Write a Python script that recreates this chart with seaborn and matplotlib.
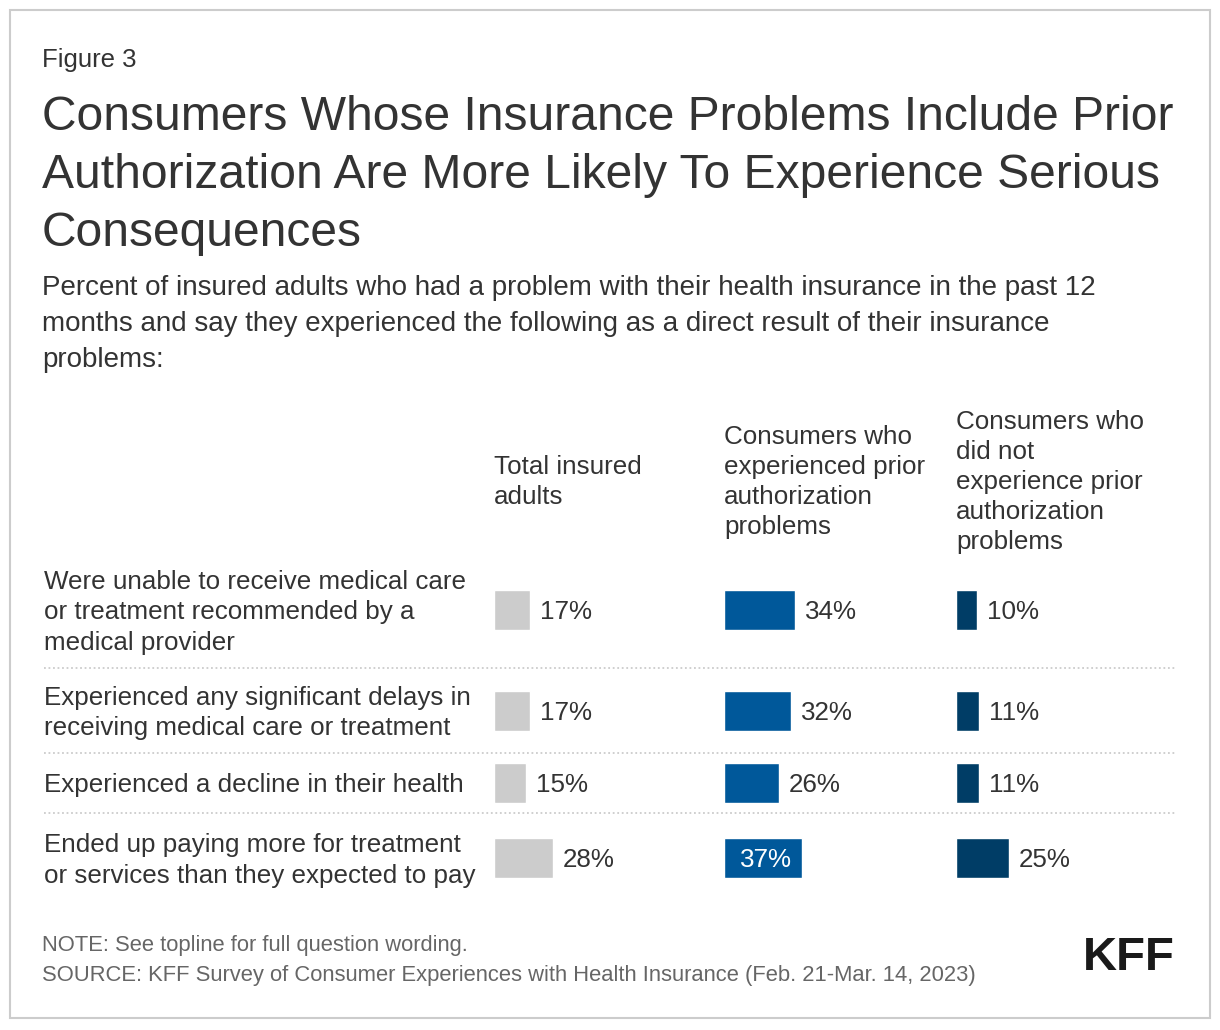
import matplotlib
matplotlib.use("Agg")
import matplotlib.pyplot as plt
import seaborn as sns
import pandas as pd
from matplotlib.patches import Rectangle
from matplotlib.lines import Line2D

# data
row_labels = [
    ["Were unable to receive medical care", "or treatment recommended by a", "medical provider"],
    ["Experienced any significant delays in", "receiving medical care or treatment"],
    ["Experienced a decline in their health"],
    ["Ended up paying more for treatment", "or services than they expected to pay"],
]
col_headers = [
    ["Total insured", "adults"],
    ["Consumers who", "experienced prior", "authorization", "problems"],
    ["Consumers who", "did not", "experience prior", "authorization", "problems"],
]
total_insured = [17, 17, 15, 28]
prior_auth = [34, 32, 26, 37]
no_prior_auth = [10, 11, 11, 25]
col_colors = ["#cccccc", "#00589a", "#003d66"]

# layout (figure pixels)
W, H = 1220, 1030
row_bounds = [552, 668, 753, 813, 903]
col_x = [494, 724, 956]
px_per_pct = 2.1
bar_h = 40
cell_w = 200
txt = "#333333"
body = 18.7

sns.set_theme(style="white")
plt.rcParams["font.family"] = ["Liberation Sans", "DejaVu Sans"]

fig = plt.figure(figsize=(W / 100, H / 100), dpi=100)


def fx(px):
    return px / W


def fy(py):
    return 1 - py / H


def lines_at(x, first_base, step, lines, size, color=txt, **kw):
    for i, line in enumerate(lines):
        fig.text(fx(x), fy(first_base + i * step), line, fontsize=size,
                 color=color, va="baseline", ha="left", **kw)


def block_centered(x, center, step, lines, size, color=txt):
    n = len(lines)
    first = center - (n - 1) / 2 * step + 0.36 * size / 0.72
    lines_at(x, first, step, lines, size, color)


# header texts
lines_at(42, 67, 0, ["Figure 3"], 18.5)
lines_at(42, 130, 58, ["Consumers Whose Insurance Problems Include Prior",
                       "Authorization Are More Likely To Experience Serious",
                       "Consequences"], 34.6)
lines_at(42, 295, 36, ["Percent of insured adults who had a problem with their health insurance in the past 12",
                       "months and say they experienced the following as a direct result of their insurance",
                       "problems:"], 20)

for j, head in enumerate(col_headers):
    block_centered(col_x[j], 480, 30, head, body)

centers = [(row_bounds[i] + row_bounds[i + 1]) / 2 for i in range(len(row_labels))]
columns = [total_insured, prior_auth, no_prior_auth]

for i, label in enumerate(row_labels):
    block_centered(44, centers[i], 30.5, label, body)
    for j, vals in enumerate(columns):
        v = vals[i]
        ax = fig.add_axes([fx(col_x[j]), fy(centers[i] + bar_h / 2),
                           cell_w / W, bar_h / H])
        sns.barplot(x=[v], y=["a"], orient="h", width=1, color=col_colors[j],
                    saturation=1, ax=ax)
        ax.set_xlim(0, cell_w / px_per_pct)
        ax.set_ylim(0.5, -0.5)
        ax.axis("off")
        ax.patch.set_alpha(0)
        dy = -0.36 * body
        if v > 35:
            ax.annotate(f"{v}%", xy=(v, 0), xytext=(-10 * 0.72, dy),
                        textcoords="offset points", ha="right", va="baseline",
                        fontsize=body, color="white", annotation_clip=False)
        else:
            ax.annotate(f"{v}%", xy=(v, 0), xytext=(10 * 0.72, dy),
                        textcoords="offset points", ha="left", va="baseline",
                        fontsize=body, color=txt, annotation_clip=False)

# dotted separators
for b in row_bounds[1:-1]:
    fig.add_artist(Line2D([fx(44), fx(1175)], [fy(b), fy(b)], color="#cccccc",
                          lw=1.3, linestyle=(0, (1, 1.5))))

# notes
lines_at(42, 951, 30, ["NOTE: See topline for full question wording.",
                       "SOURCE: KFF Survey of Consumer Experiences with Health Insurance (Feb. 21-Mar. 14, 2023)"],
         15.8, color="#666666")
fig.text(fx(1175), fy(970), "KFF", fontsize=34, fontweight="bold", color="#1a1a1a",
         ha="right", va="baseline")

# border
fig.add_artist(Rectangle((fx(10), fy(1018)), 1200 / W, 1008 / H, fill=False,
                         ec="#cccccc", lw=1.5, transform=fig.transFigure))

fig.savefig("out.png", dpi=100, facecolor="white")
